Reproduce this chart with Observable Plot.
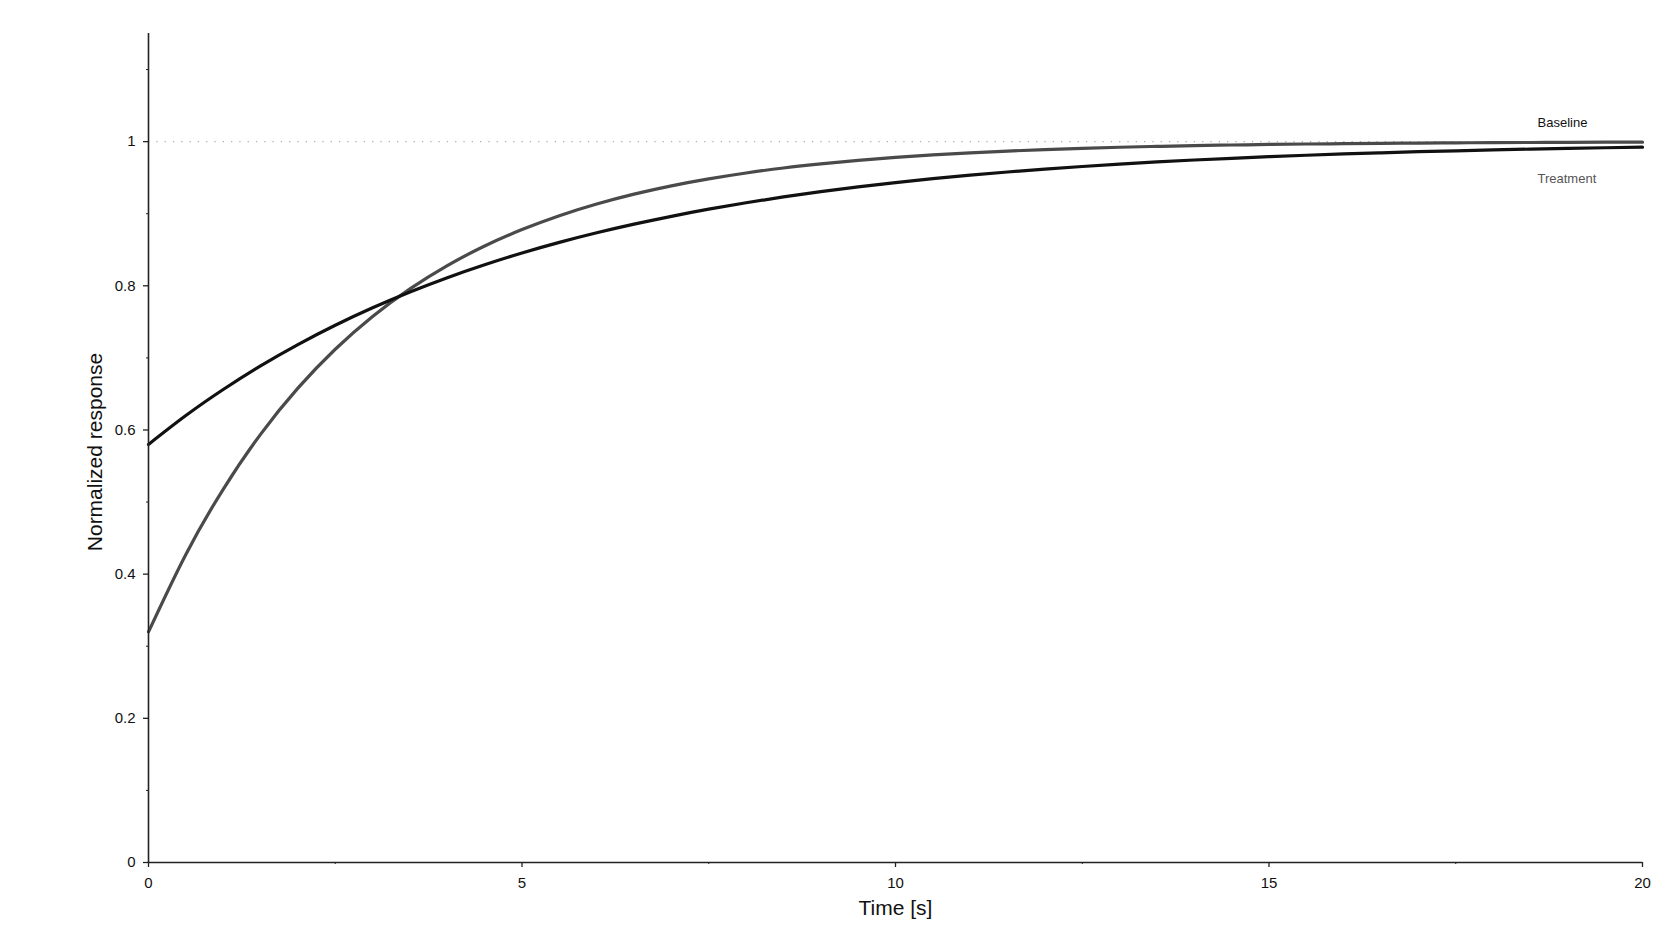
<!DOCTYPE html>
<html>
<head>
<meta charset="utf-8">
<script src="https://cdn.jsdelivr.net/npm/d3@7"></script>
<script src="https://cdn.jsdelivr.net/npm/@observablehq/plot@0.6"></script>
<style>
  html, body { margin: 0; padding: 0; background: #fff; }
  #chart svg { display: block; }
</style>
</head>
<body>
<div id="chart"></div>
<script>
// Time samples [s]
const time = [0,0.5,1,1.5,2,2.5,3,3.5,4,4.5,5,5.5,6,6.5,7,7.5,8,8.5,9,9.5,10,
  10.5,11,11.5,12,12.5,13,13.5,14,14.5,15,15.5,16,16.5,17,17.5,18,18.5,19,19.5,20];
// Gray curve (ends on top, labelled "Baseline")
const baseline = [0.3200,0.4274,0.5177,0.5939,0.6580,0.7120,0.7575,0.7957,0.8280,0.8552,0.8780,
  0.8973,0.9135,0.9272,0.9387,0.9483,0.9565,0.9634,0.9691,0.9740,0.9781,
  0.9816,0.9845,0.9869,0.9890,0.9907,0.9922,0.9934,0.9945,0.9953,0.9961,
  0.9967,0.9972,0.9977,0.9980,0.9983,0.9986,0.9988,0.9990,0.9992,0.9993];
// Black curve (ends below, labelled "Treatment")
const treatment = [0.5800,0.6200,0.6561,0.6889,0.7185,0.7453,0.7695,0.7914,0.8113,0.8292,0.8455,
  0.8602,0.8735,0.8855,0.8964,0.9063,0.9152,0.9233,0.9306,0.9372,0.9432,
  0.9486,0.9535,0.9579,0.9619,0.9655,0.9688,0.9718,0.9745,0.9769,0.9791,
  0.9811,0.9829,0.9845,0.9860,0.9873,0.9885,0.9896,0.9906,0.9915,0.9923];

const xMajor = [0, 5, 10, 15, 20];
const xMinor = [2.5, 7.5, 12.5, 17.5];
const yMajor = [0, 0.2, 0.4, 0.6, 0.8, 1];
const yMinor = [0.1, 0.3, 0.5, 0.7, 0.9, 1.1];
const seriesNames = ["Baseline", "Treatment"];
const reference = [1];

const baseRows = time.map((t, i) => ({t, v: baseline[i]}));
const treatRows = time.map((t, i) => ({t, v: treatment[i]}));
const last = time.length - 1;

const font = "'Liberation Sans', Arial, Helvetica, sans-serif";

const chart = Plot.plot({
  width: 1680,
  height: 930,
  marginLeft: 148,
  marginRight: 38,
  marginTop: 33,
  marginBottom: 68,
  style: {fontFamily: font, background: "#fff", color: "#111"},
  x: {domain: [0, 20], axis: null},
  y: {domain: [0, 1.15], axis: null},
  marks: [
    Plot.ruleY(reference, {stroke: "#b0b0b0", strokeWidth: 1.3, strokeDasharray: "1.3,7"}),
    Plot.line(baseRows, {x: "t", y: "v", stroke: "#4a4a4a", strokeWidth: 3.2, curve: "natural"}),
    Plot.line(treatRows, {x: "t", y: "v", stroke: "#111", strokeWidth: 3.2, curve: "natural"}),
    Plot.text([seriesNames[0]], {x: time[last], y: baseline[last], dx: -105, dy: -19, textAnchor: "start", fill: "#111", fontSize: 13}),
    Plot.text([seriesNames[1]], {x: time[last], y: treatment[last], dx: -105, dy: 32, textAnchor: "start", fill: "#555", fontSize: 13}),
    Plot.axisX(xMajor, {tickSize: 5, tickPadding: 10, fontSize: 15, stroke: "#222", strokeWidth: 1.3, label: null, tickFormat: d => String(d)}),
    Plot.axisX(xMinor, {tickSize: 2, text: null, stroke: "#222", label: null}),
    Plot.axisY(yMajor, {tickSize: 5, tickPadding: 8, fontSize: 15, stroke: "#222", strokeWidth: 1.3, label: null, tickFormat: d => String(d)}),
    Plot.axisY(yMinor, {tickSize: 2, text: null, stroke: "#222", label: null}),
    Plot.ruleY([0], {stroke: "#222", strokeWidth: 1.6}),
    Plot.ruleX([0], {stroke: "#222", strokeWidth: 1.6}),
    Plot.text(["Time [s]"], {frameAnchor: "bottom", lineAnchor: "middle", dy: 46, fontSize: 21, fill: "#111"}),
    Plot.text(["Normalized response"], {frameAnchor: "left", textAnchor: "middle", lineAnchor: "middle", rotate: -90, dx: -53, dy: 4, fontSize: 21, fill: "#111"})
  ]
});
document.getElementById("chart").append(chart);
</script>
</body>
</html>
